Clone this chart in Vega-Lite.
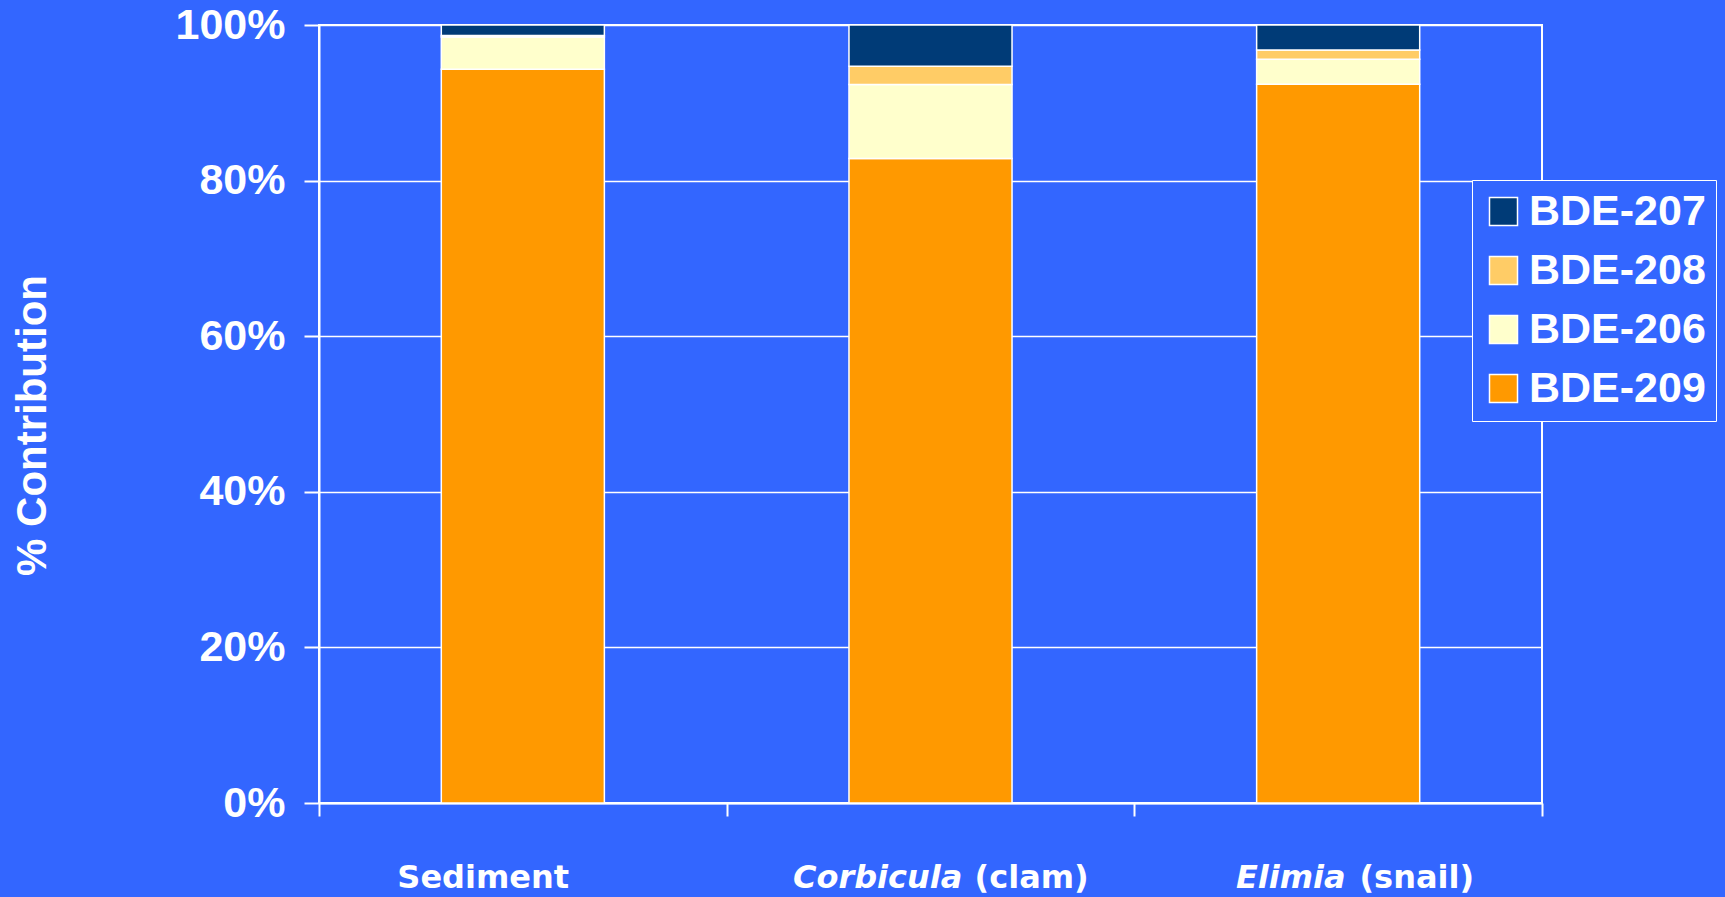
{
  "$schema": "https://vega.github.io/schema/vega-lite/v6.json",
  "autosize": {"type": "none"},
  "padding": {"left": 319, "top": 25, "right": 183, "bottom": 94},
  "width": 1223,
  "height": 778,
  "background": "#3366FF",
  "config": {
    "view": {"stroke": "white", "strokeWidth": 2},
    "axis": {"labelColor": "white", "titleColor": "white"}
  },
  "data": {
    "values": [
      {"sample": "Sediment", "isomer": "BDE-209", "pct": 94.3, "ord": 1},
      {"sample": "Sediment", "isomer": "BDE-206", "pct": 4.15, "ord": 2},
      {"sample": "Sediment", "isomer": "BDE-208", "pct": 0.2, "ord": 3},
      {"sample": "Sediment", "isomer": "BDE-207", "pct": 1.35, "ord": 4},
      {"sample": "Corbicula (clam)", "isomer": "BDE-209", "pct": 82.85, "ord": 1},
      {"sample": "Corbicula (clam)", "isomer": "BDE-206", "pct": 9.5, "ord": 2},
      {"sample": "Corbicula (clam)", "isomer": "BDE-208", "pct": 2.35, "ord": 3},
      {"sample": "Corbicula (clam)", "isomer": "BDE-207", "pct": 5.3, "ord": 4},
      {"sample": "Elimia (snail)", "isomer": "BDE-209", "pct": 92.4, "ord": 1},
      {"sample": "Elimia (snail)", "isomer": "BDE-206", "pct": 3.2, "ord": 2},
      {"sample": "Elimia (snail)", "isomer": "BDE-208", "pct": 1.2, "ord": 3},
      {"sample": "Elimia (snail)", "isomer": "BDE-207", "pct": 3.2, "ord": 4}
    ]
  },
  "resolve": {"axis": {"x": "independent"}, "scale": {"x": "independent"}},
  "layer": [
    {
      "mark": {"type": "bar", "stroke": "white", "strokeWidth": 1.5, "width": {"band": 0.4}},
      "encoding": {
        "x": {
          "field": "sample",
          "type": "nominal",
          "sort": ["Sediment", "Corbicula (clam)", "Elimia (snail)"],
          "scale": {"paddingInner": 0, "paddingOuter": 0},
          "axis": {
            "orient": "bottom",
            "title": null,
            "labels": false,
            "tickBand": "extent",
            "tickSize": 13,
            "tickWidth": 2,
            "tickColor": "white",
            "domainColor": "white",
            "domainWidth": 2,
            "grid": false
          }
        },
        "y": {
          "field": "pct",
          "type": "quantitative",
          "stack": "zero",
          "scale": {"domain": [0, 100], "nice": false},
          "axis": {
            "title": "% Contribution",
            "titleFont": "Liberation Sans",
            "titleFontSize": 42,
            "titleFontWeight": "bold",
            "titleAngle": -90,
            "titleBaseline": "alphabetic",
            "titleAlign": "center",
            "titleX": -274,
            "titleY": 400,
            "values": [0, 20, 40, 60, 80, 100],
            "labelExpr": "datum.value + '%'",
            "labelFont": "Liberation Sans",
            "labelFontSize": 43,
            "labelFontWeight": "bold",
            "labelPadding": 19,
            "labelBaseline": "middle",
            "tickSize": 15,
            "tickWidth": 2,
            "tickColor": "white",
            "domainColor": "white",
            "domainWidth": 2,
            "grid": true,
            "gridColor": "white",
            "gridWidth": 1.5,
            "gridOpacity": 1
          }
        },
        "color": {
          "field": "isomer",
          "type": "nominal",
          "scale": {
            "domain": ["BDE-207", "BDE-208", "BDE-206", "BDE-209"],
            "range": ["#003B77", "#FFCC66", "#FFFFCC", "#FF9900"]
          },
          "legend": {
            "title": null,
            "orient": "none",
            "legendX": 1153,
            "legendY": 155,
            "direction": "vertical",
            "fillColor": "#3366FF",
            "strokeColor": "white",
            "padding": 10,
            "rowPadding": 15,
            "symbolType": "square",
            "symbolSize": 784,
            "symbolStrokeColor": "white",
            "symbolStrokeWidth": 1.5,
            "symbolOpacity": 1,
            "labelFont": "Liberation Sans",
            "labelFontSize": 43,
            "labelFontWeight": "bold",
            "labelColor": "white",
            "labelOffset": 4,
            "labelLimit": 0
          }
        },
        "order": {"field": "ord", "type": "quantitative"}
      }
    },
    {
      "mark": {"type": "point", "opacity": 0},
      "encoding": {
        "x": {
          "datum": 0,
          "type": "quantitative",
          "scale": {"domain": [0, 3], "nice": false, "zero": false},
          "axis": {
            "orient": "bottom",
            "title": null,
            "values": [0.191, 1.607, 2.551],
            "labelExpr": "datum.value < 1 ? 'Sediment' : (datum.value < 2 ? '(clam)' : '(snail)')",
            "domain": false,
            "ticks": false,
            "grid": false,
            "labelAngle": 0,
            "labelFont": "DejaVu Sans",
            "labelFontSize": 32,
            "labelFontWeight": "bold",
            "labelAlign": "left",
            "labelBaseline": "alphabetic",
            "labelPadding": 84,
            "labelOverlap": false,
            "labelBound": false,
            "labelFlush": false,
            "labelLimit": 0
          }
        }
      }
    },
    {
      "mark": {"type": "point", "opacity": 0},
      "encoding": {
        "x": {
          "datum": 0,
          "type": "quantitative",
          "scale": {"domain": [0, 3], "nice": false, "zero": false},
          "axis": {
            "orient": "bottom",
            "title": null,
            "values": [1.577, 2.517],
            "labelExpr": "datum.value < 2 ? 'Corbicula' : 'Elimia'",
            "domain": false,
            "ticks": false,
            "grid": false,
            "labelAngle": 0,
            "labelFont": "DejaVu Sans",
            "labelFontSize": 32,
            "labelFontWeight": "bold",
            "labelFontStyle": "italic",
            "labelAlign": "right",
            "labelBaseline": "alphabetic",
            "labelPadding": 84,
            "labelOverlap": false,
            "labelBound": false,
            "labelFlush": false,
            "labelLimit": 0
          }
        }
      }
    }
  ]
}
